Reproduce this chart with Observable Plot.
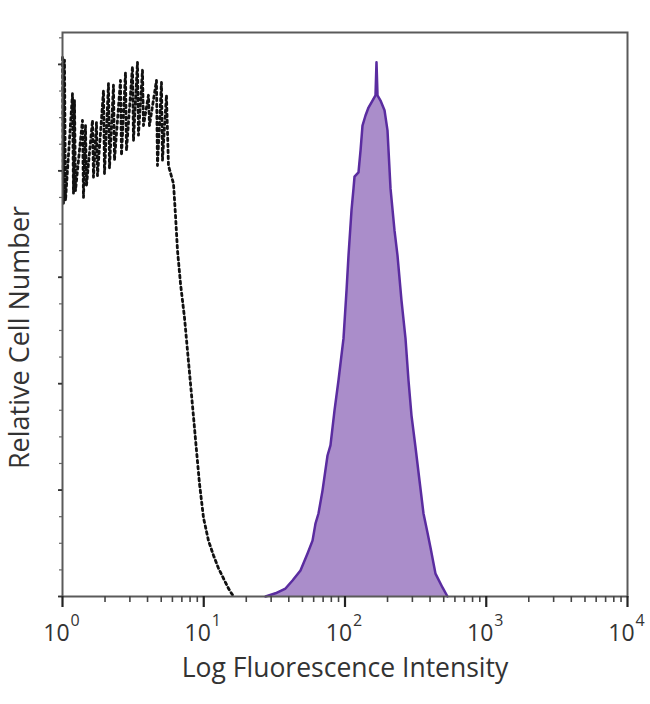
<!DOCTYPE html>
<html><head><meta charset="utf-8">
<script src="https://cdn.jsdelivr.net/npm/d3@7"></script>
<script src="https://cdn.jsdelivr.net/npm/@observablehq/plot@0.6"></script>
<style>body{margin:0;background:#fff;} #chart{width:650px;height:704px;}</style>
</head><body><div id="chart"></div>
<script>
// Stained sample (filled purple histogram)
const stainedIntensity = [27.4,32.2,37.9,42.5,48.4,54.3,58.9,61.8,64.9,69.3,75.2,78.9,84.3,89.9,94.4,97.6,102.5,105.9,111.2,114.9,116.8,124.6,128.8,133.0,139.7,146.7,156.6,164.4,167.1,169.9,178.4,190.4,199.9,210.0,224.1,235.3,251.2,268.1,281.6,295.7,315.7,336.8,359.5,383.8,402.9,437.1,490.0,531.7];
const stainedCount = [0,0.6,1.5,3.0,4.9,8.1,10.5,13.7,15.6,19.9,26.5,28.4,35.0,40.6,45.3,48.5,57.5,64.1,72.6,76.7,78.9,79.7,83.8,88.5,90.4,91.9,93.2,94.2,100.4,94.2,93.2,91.4,87.6,76.7,68.8,64.1,55.6,48.5,40.6,34.0,28.0,21.8,15.6,12.0,9.2,4.3,1.7,0];
// Isotype control (dotted histogram)
const controlIntensity = [1.000,1.016,1.033,1.050,1.177,1.196,1.216,1.236,1.385,1.408,1.455,1.479,1.631,1.657,1.740,1.769,1.951,1.983,2.116,2.151,2.296,2.334,2.573,2.616,2.792,2.838,3.129,3.181,3.395,3.450,3.683,3.744,4.061,4.128,4.627,4.703,5.020,5.102,5.445,5.626,
  6.108,6.310,6.520,6.846,7.307,7.672,8.058,8.460,8.886,9.330,9.959,10.80,11.73,12.72,14.03,14.97,16.24];
const controlCount = [101.3,73.9,100.8,74.4,94.5,75.8,93.2,76.3,89.5,75.0,88.5,77.3,89.5,78.8,89.1,79.1,95.1,79.5,96.4,80.5,96.1,82.0,97.0,82.9,98.5,83.8,99.6,85.7,100.4,86.7,98.9,88.5,94.2,88.5,97.0,81.0,96.6,82.0,94.2,81.0,
  77.6,71.6,65.0,58.8,52.4,46.2,40.0,33.8,27.4,21.2,14.8,10.5,7.7,5.3,3.0,1.5,0];
// Axes
const xTickValues = [1, 10, 100, 1000, 10000];
const xTickBase = "10";
const xTickExponents = ["0", "1", "2", "3", "4"];
const xTitle = "Log Fluorescence Intensity";
const yTitle = "Relative Cell Number";

const stained = stainedIntensity.map((x, i) => ({x, y: stainedCount[i]}));
const control = controlIntensity.map((x, i) => ({x, y: controlCount[i]}));
const xMinor = [];
for (const d of xTickValues.slice(0, -1)) for (let k = 2; k < 10; k++) xMinor.push(d * k);
const yMinor = d3.range(0, 106, 5);
const yMajor = d3.range(0, 106, 20);

const font = "'Open Sans', Lato, sans-serif";
const textColor = "#333";

const chart = Plot.plot({
  width: 650, height: 704,
  marginLeft: 62, marginRight: 23, marginTop: 32, marginBottom: 108,
  style: {fontFamily: font, background: "#fff"},
  x: {type: "log", domain: [1, 10000]},
  y: {domain: [0, 106]},
  marks: [
    Plot.areaY(stained, {x: "x", y: "y", fill: "#aa8dca"}),
    Plot.lineY(stained, {x: "x", y: "y", stroke: "#5a2ca0", strokeWidth: 2.5}),
    Plot.lineY(control, {x: "x", y: "y", stroke: "#111", strokeWidth: 2.8, strokeDasharray: "2.6,3.4"}),
    Plot.frame({stroke: "#5a5a5a", strokeWidth: 2}),
    Plot.axisX({ticks: xMinor, tickSize: 6, tickFormat: () => "", label: null, stroke: "#444", strokeWidth: 1.6}),
    Plot.axisX({ticks: xTickValues, tickSize: 11, tickFormat: () => "", label: null, stroke: "#222", strokeWidth: 2.2}),
    Plot.axisY({ticks: yMinor, tickSize: 3, tickFormat: () => "", label: null, stroke: "#666", strokeWidth: 1.2}),
    Plot.axisY({ticks: yMajor, tickSize: 4, tickFormat: () => "", label: null, stroke: "#333", strokeWidth: 1.8}),
    Plot.text(xTickValues, {x: d => d, y: 0, text: () => xTickBase, dy: 44, dx: -6, fontSize: 23, lineAnchor: "bottom", fill: textColor, textAnchor: "middle"}),
    Plot.text(xTickValues, {x: d => d, y: 0, text: (d, i) => xTickExponents[i], dy: 29, dx: 8, fontSize: 16, lineAnchor: "bottom", fill: textColor, textAnchor: "start"}),
    Plot.text([xTitle], {frameAnchor: "bottom", dy: 80, fontSize: 26.5, lineAnchor: "bottom", fill: textColor}),
    Plot.text([yTitle], {frameAnchor: "left", dx: -42, dy: 23, rotate: -90, fontSize: 27, textAnchor: "middle", fill: textColor})
  ]
});
document.getElementById("chart").appendChild(chart);
</script>
</body></html>
